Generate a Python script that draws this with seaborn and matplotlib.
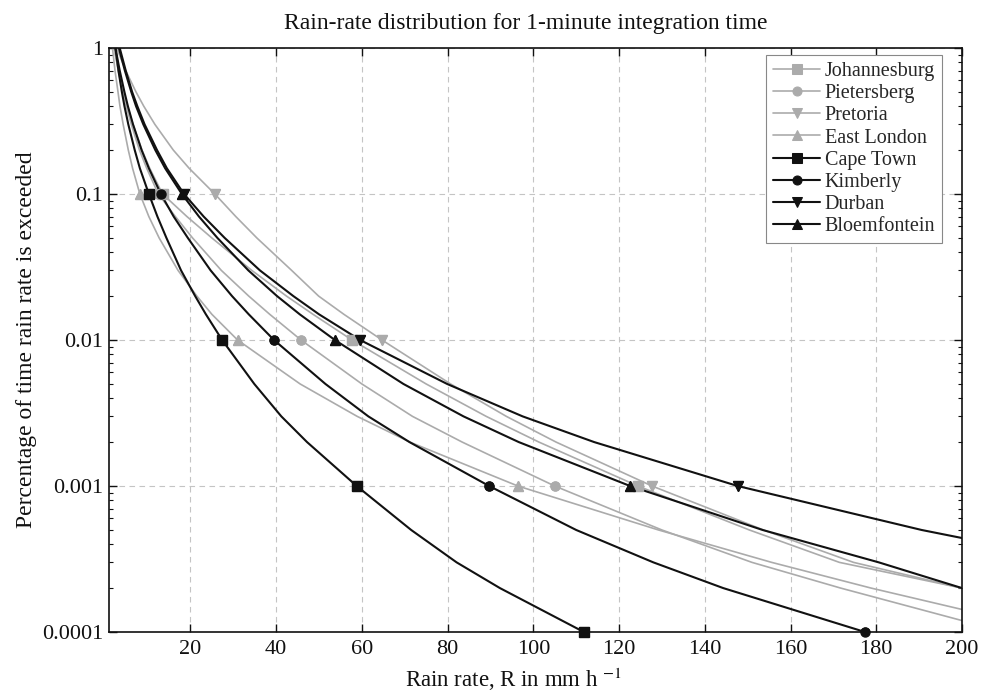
import numpy as np
import matplotlib
matplotlib.use("Agg")
import matplotlib.pyplot as plt
import seaborn as sns
from matplotlib.ticker import FixedLocator, FixedFormatter, LogLocator, NullFormatter

# Percentage of time (y) at which rain rate R (mm/h) is read for every station
pct = [1, 0.7, 0.5, 0.4, 0.3, 0.2, 0.15, 0.1, 0.07, 0.05, 0.03, 0.02, 0.015, 0.01,
       0.005, 0.003, 0.002, 0.001, 0.0005, 0.0003, 0.0002, 0.0001]
decade_idx = [7, 13, 17, 21]  # 0.1, 0.01, 0.001, 0.0001 -> marker positions

johannesburg = [2.2, 3.25, 4.4, 5.3, 6.6, 8.7, 10.5, 13.5, 19.2, 25.0, 34.3, 42.4, 48.6, 57.7,
                75.0, 89.0, 101.3, 124.4, 150.4, 171.4, 200.0]
pietersberg = [2.2, 3.16, 4.2, 5.0, 6.2, 8.1, 9.8, 12.5, 16.5, 20.5, 27.2, 33.6, 38.5, 45.8,
               60.0, 71.8, 83.4, 105.0, 130.0, 151.0, 171.7, 210.0]
pretoria = [2.8, 4.9, 7.3, 9.1, 11.7, 16.0, 19.7, 25.7, 30.6, 35.5, 43.6, 49.9, 55.8, 64.7,
            80.7, 93.7, 105.3, 127.7, 153.7, 174.7, 200.0]
east_london = [1.8, 2.4, 3.1, 3.55, 4.3, 5.5, 6.5, 8.2, 10.3, 12.7, 17.1, 21.5, 25.0, 31.0,
               45.6, 58.9, 71.2, 96.4, 129.2, 155.6, 178.8, 222.4]
cape_town = [2.5, 3.2, 4.0, 4.6, 5.5, 7.0, 8.2, 10.3, 12.3, 14.4, 17.8, 21.1, 23.6, 27.4,
             34.9, 41.2, 47.2, 58.8, 71.5, 82.1, 92.2, 111.8]
kimberly = [2.5, 3.5, 4.6, 5.4, 6.6, 8.6, 10.3, 13.1, 16.1, 19.4, 24.7, 29.7, 33.6, 39.5,
            51.5, 61.5, 71.1, 89.7, 110.0, 128.0, 144.3, 177.4]
durban = [3.5, 4.9, 6.4, 7.6, 9.3, 12.2, 14.5, 18.5, 23.1, 28.0, 36.2, 44.0, 50.0, 59.6,
          79.9, 97.5, 114.2, 147.7, 190.6, 228.5]
bloemfontein = [3.3, 4.7, 6.2, 7.3, 9.0, 11.8, 14.1, 18.0, 22.0, 26.3, 33.5, 40.2, 45.5, 53.7,
                69.7, 83.7, 96.6, 122.6, 153.5, 180.6, 200.0]

stations = ["Johannesburg", "Pietersberg", "Pretoria", "East London",
            "Cape Town", "Kimberly", "Durban", "Bloemfontein"]
rates = [johannesburg, pietersberg, pretoria, east_london,
         cape_town, kimberly, durban, bloemfontein]
markers = ["s", "o", "v", "^", "s", "o", "v", "^"]
colors = ["#ababab"] * 4 + ["#111111"] * 4
widths = [1.2] * 4 + [1.5] * 4

sns.set_theme(style="ticks")
plt.rcParams["font.family"] = ["Liberation Serif", "DejaVu Serif"]
plt.rcParams["mathtext.fontset"] = "stix"

fig = plt.figure(figsize=(9.83, 6.95), dpi=100)
fig.patch.set_facecolor("white")
ax = fig.add_axes([0.1109, 0.0906, 0.8677, 0.8403])
ax.set_facecolor("white")

for name, r, m, c, w in zip(stations, rates, markers, colors, widths):
    p = pct[:len(r)]
    marks = [i for i in decade_idx if i < len(r) and r[i] <= 200]
    sns.lineplot(x=r, y=p, ax=ax, color=c, lw=w, marker=m, markersize=6.5,
                 markeredgecolor=c, markerfacecolor=c, markevery=marks,
                 sort=False, estimator=None, label=name)
    # redraw decade markers unclipped so the ones on the bottom spine stay whole
    ax.plot([r[i] for i in marks], [p[i] for i in marks], ls="none", marker=m,
            ms=6.5, color=c, clip_on=False, zorder=3)

ax.set_yscale("log")
ax.set_xlim(1, 200)
ax.set_ylim(0.0001, 1)

ax.xaxis.set_major_locator(FixedLocator([20, 40, 60, 80, 100, 120, 140, 160, 180, 200]))
ax.yaxis.set_major_locator(FixedLocator([0.0001, 0.001, 0.01, 0.1, 1]))
ax.yaxis.set_major_formatter(FixedFormatter(["0.0001", "0.001", "0.01", "0.1", "1"]))
ax.yaxis.set_minor_locator(LogLocator(base=10, subs=np.arange(2, 10)))
ax.yaxis.set_minor_formatter(NullFormatter())

ax.grid(True, which="major", color="#c4c4c4", linestyle=(0, (5, 4)), lw=0.8)
ax.tick_params(which="both", direction="in", top=True, right=True,
               labelsize=16, colors="#111111")
ax.tick_params(which="major", length=6, width=1)
ax.tick_params(which="minor", length=3, width=0.8)
ax.tick_params(axis="x", pad=6)
ax.tick_params(axis="y", pad=4)
for s in ax.spines.values():
    s.set_color("#111111")
    s.set_linewidth(1.2)

ax.set_title("Rain-rate distribution for 1-minute integration time",
             fontsize=17, pad=14, color="#111111", x=0.489)
ax.set_xlabel("Rain rate, R in mm h $^{-1}$", fontsize=16.5, color="#111111")
ax.xaxis.set_label_coords(0.474, -0.057)
ax.set_ylabel("Percentage of time rain rate is exceeded", fontsize=17, color="#111111")
ax.yaxis.set_label_coords(-0.085, 0.5)

leg = ax.legend(loc="upper right", bbox_to_anchor=(0.977, 0.988), borderaxespad=0,
                fontsize=14.5, handlelength=2.3, labelspacing=0.15, handletextpad=0.25,
                borderpad=0.35, fancybox=False, framealpha=1, edgecolor="#888888")
leg.get_frame().set_linewidth(0.8)

fig.savefig("out.png", dpi=100, facecolor="white")
